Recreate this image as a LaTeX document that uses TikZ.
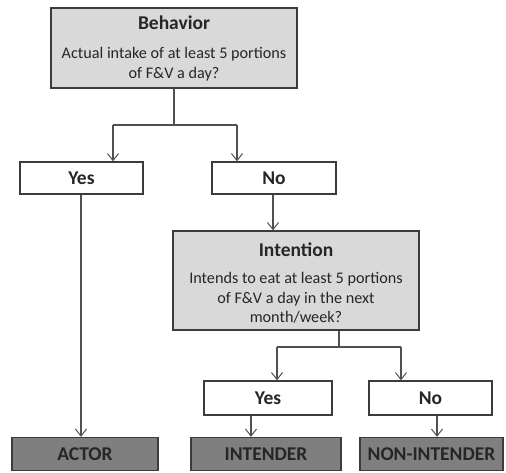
\documentclass[tikz,border=0pt]{standalone}
\usepackage{fontspec}
\setmainfont{Carlito}
\usetikzlibrary{arrows.meta}
\definecolor{lightfill}{HTML}{D9D9D9}
\definecolor{darkfill}{HTML}{7F7F7F}
\definecolor{edge}{HTML}{3C3C3C}
\definecolor{conn}{HTML}{505050}
\definecolor{txt}{HTML}{262626}
\tikzset{
  qbox/.style={draw=edge, line width=1.4pt, fill=lightfill, text=txt, align=center, inner sep=0pt,
    font=\fontsize{16}{19.5}\selectfont},
  ansbox/.style={draw=edge, line width=1.3pt, fill=white, text=txt, inner sep=0pt,
    font=\fontsize{19.5}{22}\selectfont\bfseries},
  resbox/.style={draw=edge, line width=1.3pt, fill=darkfill, text=txt, inner sep=0pt,
    font=\fontsize{19.5}{22}\selectfont\bfseries},
  link/.style={draw=conn, line width=1.2pt},
  arr/.style={link, -{Straight Barb[length=7pt,width=11pt,line width=1pt]}},
}
\begin{document}
\begin{tikzpicture}[x=1pt,y=-1pt]
\useasboundingbox (0,0) rectangle (506,472);
\node[qbox, minimum width=246pt, minimum height=80pt] (beh) at (174,48) {};
\node[text=txt, font=\fontsize{19.5}{22}\selectfont\bfseries, anchor=base] (behT) at (174,29) {Behavior};
\node[text=txt, font=\fontsize{16.2}{19.5}\selectfont, align=center, anchor=north] (behB) at (174,44) {Actual intake of at least 5 portions\\of F\&V a day?};

\node[ansbox, minimum width=123pt, minimum height=32pt] (yes1) at (81.5,178) {Yes};
\node[ansbox, minimum width=124pt, minimum height=32pt] (no1) at (274,178) {No};

\node[qbox, minimum width=246pt, minimum height=99pt] (int) at (296,280.5) {};
\node[text=txt, font=\fontsize{19.5}{22}\selectfont\bfseries, anchor=base] (intT) at (296,256) {Intention};
\node[text=txt, font=\fontsize{16.2}{19.5}\selectfont, align=center, anchor=north] (intB) at (296,269) {Intends to eat at least 5 portions\\of F\&V a day in the next\\month/week?};

\node[ansbox, minimum width=128pt, minimum height=34pt] (yes2) at (268,398) {Yes};
\node[ansbox, minimum width=123pt, minimum height=34pt] (no2) at (430.5,398) {No};

\node[resbox, minimum width=146pt, minimum height=33pt] (actor) at (85,454) {ACTOR};
\node[resbox, minimum width=150pt, minimum height=33pt] (intender) at (266,454) {INTENDER};
\node[resbox, minimum width=143pt, minimum height=33pt] (nonint) at (431.5,454) {NON-INTENDER};

\coordinate (s1) at (174,125);
\coordinate (b1) at (113,125);
\coordinate (b2) at (237,125);
\draw[link] (beh.south) -- (s1);
\draw[link] (b1) -- (b2);
\draw[arr] (b1) -- (b1 |- yes1.north);
\draw[arr] (b2) -- (b2 |- no1.north);

\coordinate (y1x) at (81,0);
\draw[arr] (y1x |- yes1.south) -- (y1x |- actor.north);
\coordinate (n1x) at (273,0);
\draw[arr] (n1x |- no1.south) -- (n1x |- int.north);

\coordinate (s2) at (339,347);
\coordinate (c1) at (277,347);
\coordinate (c2) at (401,347);
\draw[link] (s2 |- int.south) -- (s2);
\draw[link] (c1) -- (c2);
\draw[arr] (c1) -- (c1 |- yes2.north);
\draw[arr] (c2) -- (c2 |- no2.north);

\coordinate (y2x) at (251,0);
\draw[arr] (y2x |- yes2.south) -- (y2x |- intender.north);
\coordinate (n2x) at (437,0);
\draw[arr] (n2x |- no2.south) -- (n2x |- nonint.north);
\end{tikzpicture}
\end{document}
